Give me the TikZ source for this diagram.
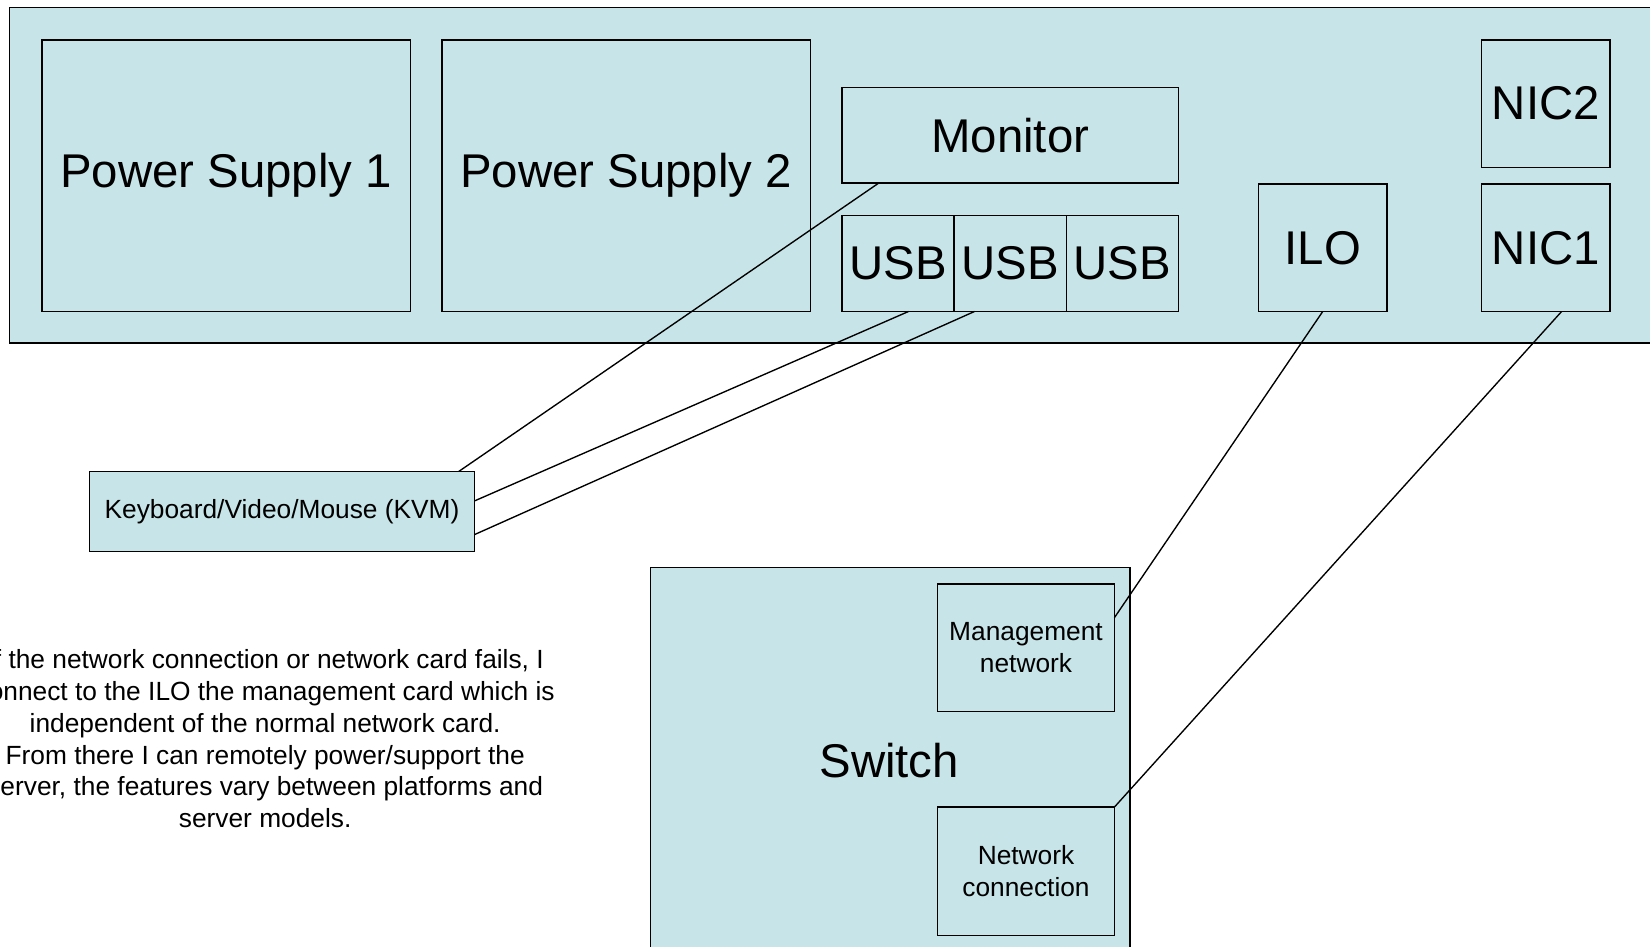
\documentclass[tikz,border=0pt]{standalone}
\usepackage{fontspec}
\setmainfont{Liberation Sans}
\definecolor{boxfill}{RGB}{199,229,232}
\begin{document}
\begin{tikzpicture}[x=1pt, y=-1pt,
          base/.style={rectangle, draw=black, line width=1.3pt, fill=boxfill, inner sep=0pt,
            outer sep=0pt, anchor=north west, align=center},
          big/.style={base, font=\fontsize{45}{54}\selectfont},
          small/.style={base, font=\fontsize{25}{30}\selectfont},
          port/.style={big, minimum width=122pt, minimum height=121pt},
          usb/.style={big, minimum width=106.7pt, minimum height=91pt},
          wire/.style={line width=1.3pt}]
          % \draw [help lines] grid(3,2);
          \useasboundingbox (0,0) rectangle (1568,899);
          \clip (0,0) rectangle (1568,899);
          \node[base, minimum width=1620pt, minimum height=319pt] (server) at (9,7) {};
          \node[big, minimum width=350pt, minimum height=258pt] (ps1) at (40,38) {Power Supply 1};
          \node[big, minimum width=350pt, minimum height=258pt] (ps2) at (420,38) {Power Supply 2};
          \node[big, minimum width=320pt, minimum height=91pt] (monitor) at (800,83) {Monitor};
          \node[usb] (usb1) at (800,205) {USB};
          \node[usb] (usb2) at (906.7,205) {USB};
          \node[usb] (usb3) at (1013.3,205) {USB};
          \node[port] (ilo) at (1196,175) {ILO};
          \node[port] (nic2) at (1408,38) {NIC2};
          \node[port] (nic1) at (1408,175) {NIC1};
          \node[small, minimum width=366pt, minimum height=76pt] (kvm) at (85,448) {Keyboard/Video/Mouse (KVM)};
          \node[base, minimum width=456pt, minimum height=400pt] (switch) at (618,539) {};
          \node[font=\fontsize{45}{54}\selectfont] (switchlabel) at (845,723) {Switch};
          \node[small, minimum width=168pt, minimum height=121pt] (mgmt) at (891,555) {Management\\network};
          \node[small, minimum width=168pt, minimum height=122pt] (netconn) at (891,767) {Network\\connection};
          \node[font=\fontsize{25}{30.3}\selectfont, align=center] (note) at (252,702)
            {If the network connection or network card fails, I\\connect to the ILO the management card which is\\independent of the normal network card.\\From there I can remotely power/support the\\server, the features vary between platforms and\\server models.};
          \draw[wire] ([xshift=35pt]monitor.south west) -- ([xshift=-15pt]kvm.north east);
          \draw[wire] ([xshift=10pt]usb1.south) -- ([yshift=-28pt]kvm.north east);
          \draw[wire] ([xshift=-34pt]usb2.south) -- ([yshift=-60pt]kvm.north east);
          \draw[wire] (ilo.south) -- ([yshift=-32pt]mgmt.north east);
          \draw[wire] ([xshift=15pt]nic1.south) -- (netconn.north east);
        \end{tikzpicture}
\end{document}
